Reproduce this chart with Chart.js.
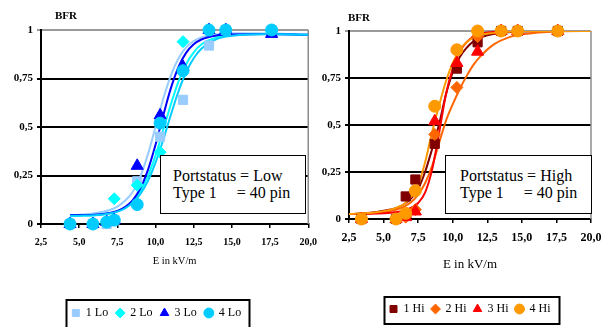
<!DOCTYPE html>
<html>
<head>
<meta charset="utf-8">
<script src="https://cdn.jsdelivr.net/npm/chart.js"></script>
<style>
  html, body { margin:0; padding:0; background:#fff; overflow:hidden; width:613px; height:327px; }
  canvas { position:absolute; top:0; }
  #cLo { left:0; }
  #cHi { left:305px; }
  .bfr { position:absolute; font-family:"Liberation Serif","DejaVu Serif",serif; font-weight:bold; font-size:11px; color:#000; line-height:12px; }
  .note { position:absolute; background:#fff; border:1.5px solid #000; box-sizing:border-box;
          font-family:"Liberation Serif","DejaVu Serif",serif; font-size:16px; line-height:17px; white-space:pre; color:#000; }
</style>
</head>
<body>
<canvas id="cLo" width="325" height="340"></canvas>
<canvas id="cHi" width="308" height="340"></canvas>
<div class="bfr" style="left:55px; top:9px;">BFR</div>
<div class="bfr" style="left:348px; top:11px;">BFR</div>
<div class="note" style="left:160px; top:155px; width:146px; height:59px; padding:11px 0 0 12px;">Portstatus = Low
Type 1     = 40 pin</div>
<div class="note" style="left:445px; top:155px; width:147px; height:59px; padding:11px 0 0 14px;">Portstatus = High
Type 1     = 40 pin</div>
<script>
// ---------- tick labels ----------
const xTickLabels = ['2,5','5,0','7,5','10,0','12,5','15,0','17,5','20,0'];
const yTickLabels = ['0','0,25','0,5','0,75','1'];

// ---------- Low port status: measured points ----------
const loNames = ['1 Lo','2 Lo','3 Lo','4 Lo'];
const xLo  = [4.4, 5.9, 6.8, 7.3, 8.8, 10.3, 11.8, 13.5, 14.6, 17.6];
const lo1  = [0, 0, 0, 0.02, 0.22, 0.45, 0.64, 0.92, 1.0, 1.0];
const lo2  = [0, 0, 0.01, 0.13, 0.20, 0.37, 0.94, 1.0, 1.0, 1.0];
const lo3  = [0, 0, 0.01, 0.02, 0.30, 0.56, 0.81, 1.0, 1.0, 0.98];
const lo4  = [0, 0, 0.01, 0.02, 0.10, 0.52, 0.79, 1.0, 1.0, 1.0];

// ---------- Low port status: fitted curves ----------
const xLoFit = [4.4, 5, 6, 7, 7.5, 8, 8.5, 9, 9.5, 10, 10.5, 11, 11.5, 12, 12.5, 13, 14, 15, 17.5, 20];
const lo1Fit = [0.046, 0.048, 0.055, 0.072, 0.09, 0.12, 0.165, 0.244, 0.359, 0.50, 0.644, 0.765, 0.853, 0.91, 0.943, 0.962, 0.978, 0.983, 0.982, 0.975];
const lo2Fit = [0.042, 0.043, 0.045, 0.055, 0.066, 0.085, 0.117, 0.169, 0.247, 0.354, 0.483, 0.616, 0.734, 0.823, 0.885, 0.925, 0.961, 0.974, 0.98, 0.975];
const lo3Fit = [0.046, 0.046, 0.048, 0.057, 0.067, 0.087, 0.122, 0.183, 0.278, 0.408, 0.558, 0.699, 0.809, 0.882, 0.926, 0.951, 0.972, 0.977, 0.98, 0.975];
const lo4Fit = [0.042, 0.043, 0.045, 0.054, 0.064, 0.081, 0.109, 0.154, 0.221, 0.316, 0.433, 0.562, 0.683, 0.782, 0.854, 0.903, 0.953, 0.97, 0.98, 0.975];

// ---------- High port status: measured points ----------
const hiNames = ['1 Hi','2 Hi','3 Hi','4 Hi'];
const xHi  = [3.4, 5.9, 6.6, 7.3, 8.7, 10.3, 11.8, 13.5, 14.7, 17.6];
const hi1  = [0, 0, 0.12, 0.21, 0.40, 0.80, 0.94, 1.0, 1.0, 1.0];
const hi2  = [0, 0, 0.01, 0.05, 0.45, 0.70, 0.97, 1.0, 1.0, 1.0];
const hi3  = [0, 0, 0.01, 0.04, 0.52, 0.83, 0.89, 1.0, 1.0, 1.0];
const hi4  = [0, 0, 0.03, 0.15, 0.60, 0.90, 1.0, 1.0, 1.0, 1.0];

// ---------- High port status: fitted curves ----------
const xHiFit = [2.5, 3.5, 4.5, 5.5, 6, 6.5, 7, 7.5, 8, 8.5, 9, 9.5, 10, 10.5, 11, 11.5, 12, 13, 14, 15, 17.5, 20];
const hi1Fit = [0.026, 0.03, 0.037, 0.05, 0.06, 0.08, 0.11, 0.16, 0.25, 0.37, 0.50, 0.66, 0.78, 0.86, 0.91, 0.945, 0.965, 0.985, 0.993, 0.997, 1.0, 1.0];
const hi2Fit = [0.026, 0.028, 0.033, 0.043, 0.052, 0.066, 0.09, 0.13, 0.19, 0.28, 0.40, 0.52, 0.61, 0.69, 0.76, 0.82, 0.865, 0.93, 0.965, 0.982, 0.998, 1.0];
const hi3Fit = [0.026, 0.027, 0.029, 0.033, 0.037, 0.045, 0.06, 0.085, 0.14, 0.26, 0.45, 0.66, 0.80, 0.89, 0.94, 0.97, 0.985, 0.995, 1.0, 1.0, 1.0, 1.0];
const hi4Fit = [0.026, 0.03, 0.036, 0.05, 0.062, 0.08, 0.12, 0.18, 0.30, 0.46, 0.60, 0.73, 0.83, 0.90, 0.94, 0.965, 0.98, 0.99, 0.996, 1.0, 1.0, 1.0];

// ---------- styles ----------
const loColors = ['#99CCFF', '#00FFFF', '#0000FF', '#00CCFF'];
const hiColors = ['#800000', '#FF6600', '#FF0000', '#FF9900'];
const markerStyles = ['rect', 'rectRot', 'triangle', 'circle'];
const markerRadius = [6.5, 6, 7, 6];
const SERIF = '"Liberation Serif", "DejaVu Serif", serif';

function pts(xs, ys) { return xs.map((x, i) => ({x: x, y: ys[i]})); }

function buildDatasets(names, colors, xs, series, xsFit, fits) {
  const ds = [];
  series.forEach((s, i) => {
    ds.push({
      label: names[i], data: pts(xs, s), showLine: false, clip: false,
      pointStyle: markerStyles[i], pointRadius: markerRadius[i], pointHoverRadius: markerRadius[i],
      backgroundColor: colors[i], borderColor: colors[i], borderWidth: 1,
      order: 4 - i
    });
  });
  fits.forEach((f, i) => {
    ds.push({
      label: names[i] + ' fit', data: pts(xsFit, f), showLine: true,
      pointRadius: 0, borderColor: colors[i], backgroundColor: colors[i],
      borderWidth: 2, fill: false, cubicInterpolationMode: 'monotone',
      order: 8 - i
    });
  });
  return ds;
}

const framePlugin = {
  id: 'frame',
  beforeDatasetsDraw(chart) {
    const {ctx, chartArea: a} = chart;
    ctx.save();
    ctx.strokeStyle = '#8c8c8c';
    ctx.lineWidth = 1.5;
    ctx.beginPath();
    ctx.moveTo(a.right, a.top);
    ctx.lineTo(a.right, a.bottom);
    ctx.stroke();
    ctx.restore();
  },
  afterDraw(chart) {
    const lg = chart.legend;
    const hb = lg && lg.legendHitBoxes;
    if (!hb || !hb.length) return;
    const l = hb[0].left;
    const last = hb[hb.length - 1];
    const r = last.left + last.width;
    const ctx = chart.ctx;
    ctx.save();
    ctx.strokeStyle = '#000';
    ctx.lineWidth = 2;
    ctx.strokeRect(Math.round(l - 6) + 0.5, lg.top + 1, Math.round(r - l + 14), lg.height - 2);
    ctx.restore();
  }
};

function makeChart(canvasId, datasets, cfg) {
  return new Chart(document.getElementById(canvasId), {
    type: 'scatter',
    data: { datasets: datasets },
    plugins: [framePlugin],
    options: {
      responsive: false,
      animation: false,
      devicePixelRatio: 1,
      layout: { padding: cfg.padding },
      plugins: {
        tooltip: { enabled: false },
        legend: {
          position: 'bottom',
          fullSize: cfg.legendFull,
          labels: {
            usePointStyle: true, boxWidth: 8, boxHeight: 7,
            padding: cfg.legendPad, color: '#000',
            font: { family: SERIF, size: 12 },
            filter: item => item.datasetIndex < 4,
            sort: (a, b) => a.datasetIndex - b.datasetIndex
          }
        }
      },
      scales: {
        x: {
          type: 'linear', min: 2.5, max: 20,
          afterFit: s => { s.height = cfg.xHeight; },
          border: { color: '#000', width: 2 },
          grid: { drawOnChartArea: false, drawTicks: true, tickLength: 4, color: '#000', lineWidth: 1.5 },
          ticks: {
            stepSize: 2.5, padding: cfg.xTickPad, color: '#000', maxRotation: 0, autoSkip: false,
            font: { family: SERIF, size: cfg.xTickSize, weight: 'bold' },
            callback: v => xTickLabels[Math.round((v - 2.5) / 2.5)]
          },
          title: {
            display: true, text: 'E in kV/m', color: '#000',
            font: { family: SERIF, size: cfg.xTitleSize },
            padding: { top: 0, bottom: cfg.xTitlePadBottom }
          }
        },
        y: {
          min: 0, max: 1,
          afterFit: s => { s.width = cfg.yWidth; },
          border: { color: '#000', width: 2 },
          grid: {
            drawTicks: true, tickLength: 4, lineWidth: 2,
            color: c => (c.tick && c.tick.value === 1) ? '#9a9a9a' : '#000'
          },
          ticks: {
            stepSize: 0.25, padding: 4, color: '#000',
            font: { family: SERIF, size: 11, weight: 'bold' },
            callback: v => yTickLabels[Math.round(v / 0.25)]
          }
        }
      }
    }
  });
}

makeChart('cLo',
  buildDatasets(loNames, loColors, xLo, [lo1, lo2, lo3, lo4], xLoFit, [lo1Fit, lo2Fit, lo3Fit, lo4Fit]),
  { padding: {left: 0, right: 12, top: 30, bottom: 11}, legendFull: true, legendPad: 8,
    xHeight: 75, xTickPad: 8, xTickSize: 10, xTitleSize: 10.5, xTitlePadBottom: 31, yWidth: 41 });

makeChart('cHi',
  buildDatasets(hiNames, hiColors, xHi, [hi1, hi2, hi3, hi4], xHiFit, [hi1Fit, hi2Fit, hi3Fit, hi4Fit]),
  { padding: {left: 0, right: 22, top: 31, bottom: 15}, legendFull: false, legendPad: 7,
    xHeight: 77, xTickPad: 8, xTickSize: 12, xTitleSize: 13, xTitlePadBottom: 24, yWidth: 44 });
</script>
</body>
</html>
